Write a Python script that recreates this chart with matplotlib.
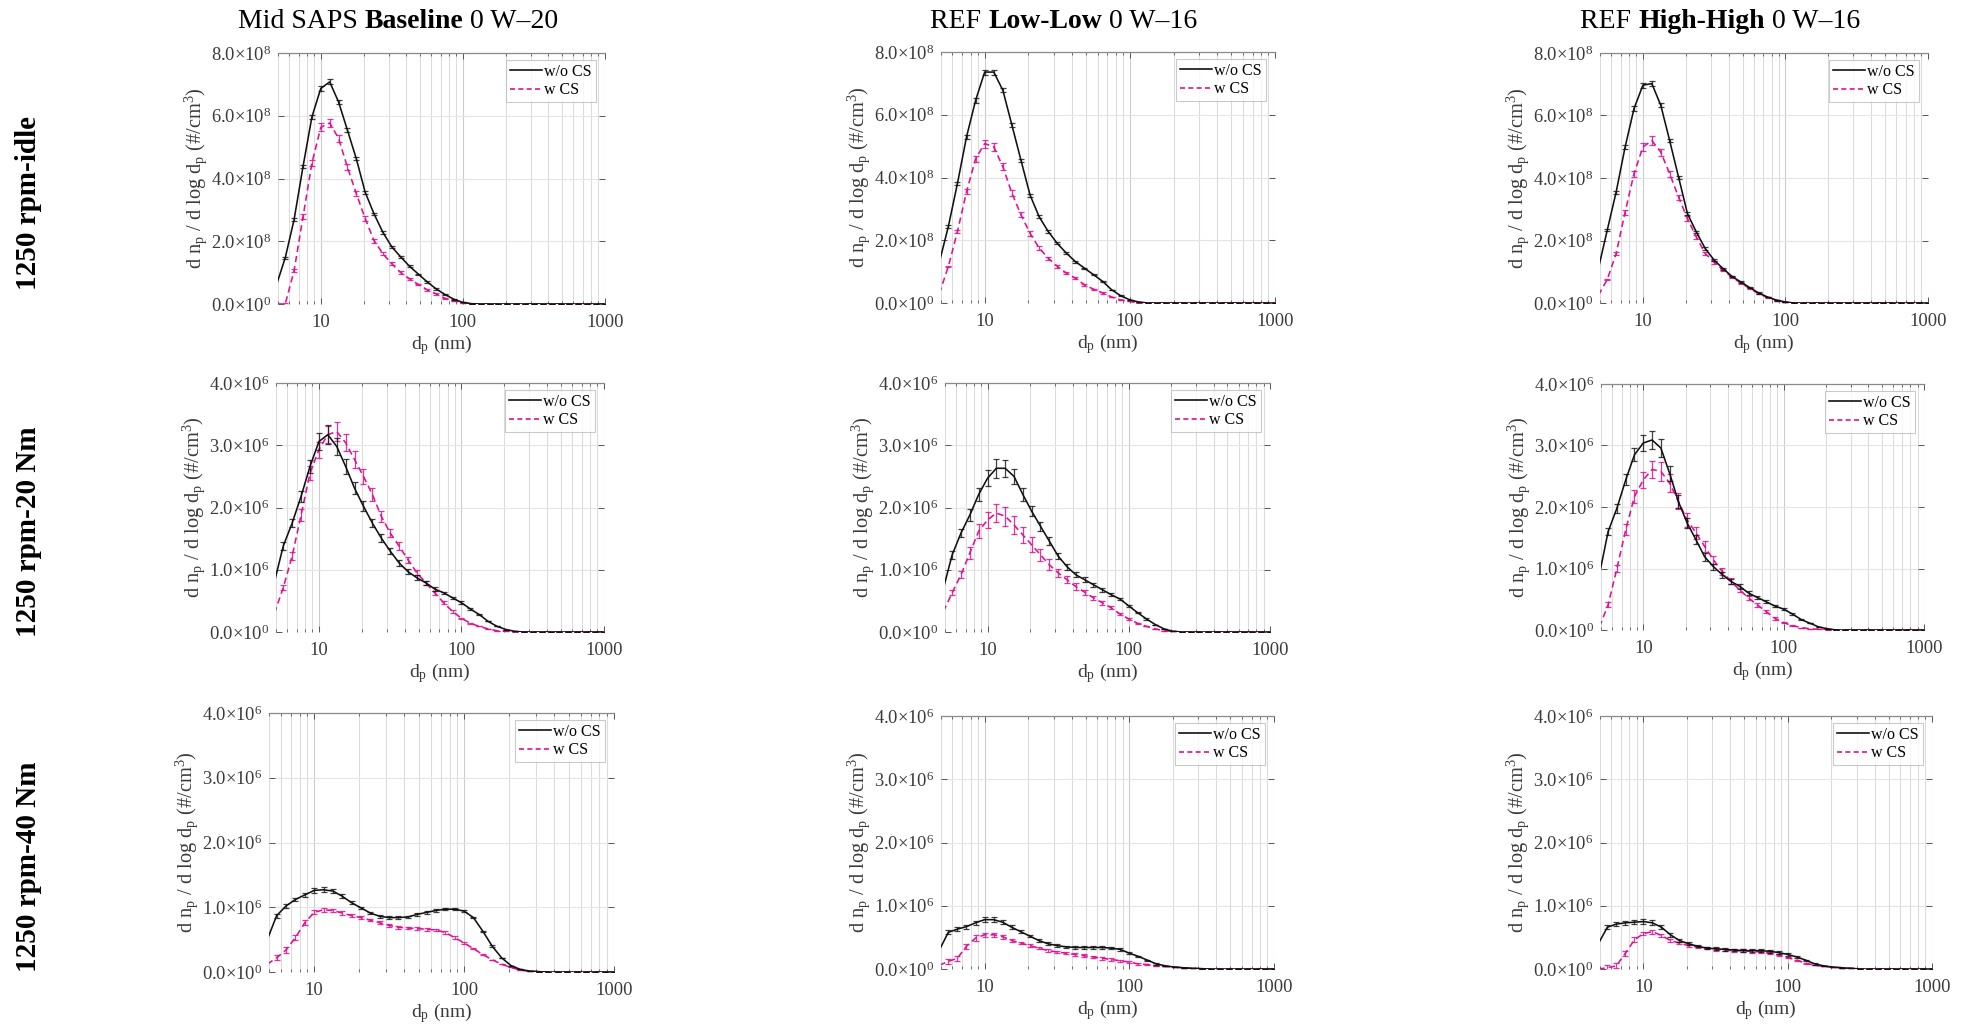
import matplotlib
matplotlib.use("Agg")
import matplotlib.pyplot as plt
from matplotlib.lines import Line2D
from matplotlib.ticker import FixedLocator, FuncFormatter, NullFormatter

plt.rcParams['font.family'] = ['Liberation Serif', 'DejaVu Serif']
plt.rcParams['mathtext.fontset'] = 'custom'
plt.rcParams['mathtext.rm'] = 'Liberation Serif'
plt.rcParams['mathtext.it'] = 'Liberation Serif:italic'
plt.rcParams['mathtext.bf'] = 'Liberation Serif:bold'

# ---------------- data ----------------
dp = [4.87, 5.62, 6.49, 7.50, 8.66, 10.0, 11.55, 13.34, 15.40, 17.78, 20.54, 23.71,
      27.38, 31.62, 36.52, 42.17, 48.70, 56.23, 64.94, 74.99, 86.60, 100.0, 115.5,
      133.4, 154.0, 177.8, 205.4, 237.1, 273.8, 316.2, 365.2, 421.7, 487.0, 562.3,
      649.4, 749.9, 866.0, 1000.0]

col_titles = [("Mid SAPS ", "Baseline", " 0 W\u201320"),
              ("REF ", "Low-Low", " 0 W\u201316"),
              ("REF ", "High-High", " 0 W\u201316")]
row_titles = ["1250 rpm-idle", "1250 rpm-20 Nm", "1250 rpm-40 Nm"]
row_exp = [8, 6, 6]
row_ticks = [[0, 2, 4, 6, 8], [0, 1, 2, 3, 4], [0, 1, 2, 3, 4]]
legend_labels = ["w/o CS", "w CS"]

# row 1 (x 1e8)
idle_base_wo = [0.6, 1.47, 2.69, 4.38, 5.96, 6.87, 7.08, 6.44, 5.54, 4.63, 3.56, 2.87,
                2.28, 1.82, 1.5, 1.2, 0.95, 0.7, 0.48, 0.3, 0.15, 0.05, 0.01]
idle_base_w = [0.0, 0.0, 1.06, 2.78, 4.49, 5.63, 5.77, 5.28, 4.36, 3.52, 2.72, 2.02,
               1.6, 1.28, 1.0, 0.8, 0.62, 0.45, 0.32, 0.18, 0.1, 0.04, 0.0]
idle_ll_wo = [1.3, 2.44, 3.81, 5.3, 6.46, 7.36, 7.36, 6.78, 5.67, 4.55, 3.44, 2.75,
              2.28, 1.9, 1.59, 1.32, 1.11, 0.9, 0.69, 0.42, 0.23, 0.1, 0.03]
idle_ll_w = [0.3, 1.17, 2.28, 3.55, 4.6, 5.08, 4.98, 4.34, 3.5, 2.81, 2.22, 1.75,
             1.43, 1.17, 0.95, 0.79, 0.58, 0.44, 0.32, 0.19, 0.1, 0.05, 0.01]
idle_hh_wo = [1.1, 2.33, 3.55, 4.99, 6.22, 6.97, 7.02, 6.33, 5.2, 4.03, 2.86, 2.27,
              1.74, 1.37, 1.1, 0.85, 0.67, 0.49, 0.32, 0.19, 0.09, 0.03]
idle_hh_w = [0.25, 0.75, 1.58, 2.91, 4.14, 4.99, 5.2, 4.83, 4.14, 3.39, 2.7, 2.11,
             1.58, 1.31, 1.05, 0.83, 0.64, 0.46, 0.3, 0.17, 0.09, 0.03]
# row 2 (x 1e6)
n20_base_wo = [0.8, 1.38, 1.75, 2.18, 2.66, 3.06, 3.17, 2.98, 2.66, 2.31, 2.02, 1.75,
               1.51, 1.3, 1.11, 0.97, 0.87, 0.79, 0.69, 0.63, 0.55, 0.47, 0.37, 0.28,
               0.17, 0.09, 0.04, 0.01]
n20_base_w = [0.3, 0.71, 1.22, 1.88, 2.55, 2.93, 3.17, 3.22, 3.04, 2.77, 2.5, 2.21,
              1.86, 1.59, 1.38, 1.16, 0.95, 0.79, 0.63, 0.47, 0.33, 0.22, 0.14, 0.09,
              0.05, 0.02, 0.01]
n20_ll_wo = [0.7, 1.24, 1.59, 1.88, 2.21, 2.47, 2.63, 2.63, 2.5, 2.21, 1.94, 1.7,
             1.46, 1.22, 1.05, 0.92, 0.84, 0.76, 0.68, 0.6, 0.53, 0.42, 0.31, 0.21,
             0.12, 0.05, 0.01]
n20_ll_w = [0.33, 0.63, 0.92, 1.27, 1.62, 1.8, 1.91, 1.86, 1.72, 1.56, 1.4, 1.24,
            1.08, 0.95, 0.84, 0.73, 0.64, 0.55, 0.47, 0.39, 0.29, 0.21, 0.14, 0.09,
            0.05, 0.02, 0.01]
n20_hh_wo = [0.9, 1.6, 1.98, 2.44, 2.85, 3.04, 3.09, 2.96, 2.55, 2.09, 1.74, 1.47,
             1.19, 1.03, 0.9, 0.79, 0.71, 0.6, 0.53, 0.46, 0.39, 0.34, 0.26, 0.17,
             0.11, 0.05, 0.02]
n20_hh_w = [0.05, 0.41, 1.0, 1.63, 2.17, 2.44, 2.61, 2.58, 2.39, 2.09, 1.79, 1.58,
            1.36, 1.14, 0.95, 0.79, 0.65, 0.52, 0.41, 0.3, 0.19, 0.12, 0.07, 0.04,
            0.02, 0.01]
# row 3 (x 1e6)
n40_base_wo = [0.5, 0.87, 1.02, 1.12, 1.19, 1.26, 1.27, 1.25, 1.17, 1.07, 0.99, 0.91,
               0.86, 0.84, 0.84, 0.85, 0.89, 0.92, 0.95, 0.97, 0.97, 0.94, 0.84, 0.63,
               0.4, 0.22, 0.1, 0.04, 0.015, 0.005]
n40_base_w = [0.12, 0.22, 0.34, 0.53, 0.76, 0.92, 0.96, 0.95, 0.91, 0.87, 0.84, 0.8,
              0.76, 0.72, 0.69, 0.68, 0.67, 0.66, 0.65, 0.61, 0.53, 0.45, 0.36, 0.27,
              0.19, 0.12, 0.07, 0.03, 0.01, 0.005]
n40_ll_wo = [0.3, 0.58, 0.63, 0.67, 0.73, 0.78, 0.78, 0.74, 0.66, 0.59, 0.52, 0.45,
             0.4, 0.37, 0.35, 0.34, 0.34, 0.34, 0.34, 0.33, 0.31, 0.25, 0.2, 0.14,
             0.08, 0.05, 0.03, 0.02, 0.01, 0.005]
n40_ll_w = [0.06, 0.12, 0.17, 0.36, 0.49, 0.54, 0.54, 0.51, 0.45, 0.41, 0.37, 0.33,
            0.29, 0.27, 0.25, 0.23, 0.21, 0.19, 0.17, 0.15, 0.13, 0.11, 0.08, 0.07,
            0.05, 0.04, 0.03, 0.02, 0.01, 0.005]
n40_hh_wo = [0.4, 0.66, 0.71, 0.73, 0.74, 0.75, 0.73, 0.66, 0.54, 0.45, 0.4, 0.36,
             0.33, 0.32, 0.31, 0.3, 0.29, 0.29, 0.29, 0.28, 0.26, 0.23, 0.19, 0.14,
             0.08, 0.05, 0.03, 0.02, 0.01]
n40_hh_w = [0.0, 0.02, 0.05, 0.25, 0.46, 0.56, 0.59, 0.53, 0.45, 0.41, 0.37, 0.35,
            0.33, 0.31, 0.3, 0.29, 0.29, 0.28, 0.27, 0.25, 0.22, 0.18, 0.14, 0.09,
            0.06, 0.04, 0.03, 0.02, 0.01]

# error bar half-widths (same units as values)
err_idle_wo = [0, 0.04, 0.05, 0.06, 0.07, 0.08, 0.08, 0.07, 0.06, 0.05, 0.05, 0.04,
               0.04, 0.03, 0.03, 0.03, 0.02, 0.02, 0.02, 0.01, 0.01]
err_idle_w = [0, 0.02, 0.05, 0.08, 0.1, 0.13, 0.13, 0.11, 0.1, 0.08, 0.07, 0.06, 0.05,
              0.05, 0.04, 0.03, 0.03, 0.02, 0.02, 0.01, 0.01]
err_n20_wo = [0, 0.06, 0.07, 0.09, 0.11, 0.13, 0.15, 0.14, 0.12, 0.1, 0.08, 0.07, 0.06,
              0.05, 0.05, 0.04, 0.04, 0.03, 0.03, 0.02, 0.02, 0.02, 0.01, 0.01]
err_n20_w = [0, 0.04, 0.06, 0.09, 0.11, 0.13, 0.14, 0.15, 0.14, 0.13, 0.12, 0.1, 0.09,
             0.07, 0.06, 0.05, 0.04, 0.03, 0.03, 0.02, 0.02, 0.01, 0.01]
err_n40_wo = [0, 0.03, 0.03, 0.03, 0.03, 0.04, 0.04, 0.03, 0.03, 0.02, 0.02, 0.02, 0.02,
              0.02, 0.02, 0.02, 0.02, 0.02, 0.02, 0.02, 0.02, 0.02, 0.01, 0.01, 0.01]
err_n40_w = [0, 0.04, 0.04, 0.04, 0.04, 0.03, 0.03, 0.03, 0.03, 0.02, 0.02, 0.02, 0.02,
             0.02, 0.02, 0.02, 0.02, 0.02, 0.02, 0.02, 0.02, 0.01, 0.01, 0.01]

series = [
    [(idle_base_wo, idle_base_w), (idle_ll_wo, idle_ll_w), (idle_hh_wo, idle_hh_w)],
    [(n20_base_wo, n20_base_w), (n20_ll_wo, n20_ll_w), (n20_hh_wo, n20_hh_w)],
    [(n40_base_wo, n40_base_w), (n40_ll_wo, n40_ll_w), (n40_hh_wo, n40_hh_w)],
]
errors = [(err_idle_wo, err_idle_w), (err_n20_wo, err_n20_w), (err_n40_wo, err_n40_w)]


def pad(v, n=len(dp)):
    return list(v) + [0.0] * (n - len(v))


# ---------------- layout ----------------
W, H = 1966, 1035
fig = plt.figure(figsize=(W / 100, H / 100), dpi=100)

# (left, right, top, bottom) in pixels
boxes = [
    [(278, 605, 53, 304), (941, 1275, 52, 303), (1600, 1928, 53, 303)],
    [(276, 604, 383, 632), (945, 1270, 383, 632), (1601, 1924, 384, 630)],
    [(269, 614, 713, 972), (941, 1274, 716, 969), (1600, 1932, 716, 969)],
]

BLACK = '#111111'
MAGENTA = '#e0108f'
TXT = '#3a3a3a'


def make_fmt(e):
    def f(v, pos):
        m = v / 10 ** e
        ex = 0 if abs(m) < 1e-12 else e
        return '%.1f\u00d710$^{\\mathregular{%d}}$' % (m, ex)
    return f


for r in range(3):
    scale = 10 ** row_exp[r]
    for c in range(3):
        l, rr, t, b = boxes[r][c]
        ax = fig.add_axes([l / W, 1 - b / H, (rr - l) / W, (b - t) / H])
        ax.set_xscale('log')
        wo, w = series[r][c]
        e_wo, e_w = errors[r]
        y_wo = [v * scale for v in pad(wo)]
        y_w = [v * scale for v in pad(w)]
        er_wo = [v * scale for v in pad(e_wo)]
        er_w = [v * scale for v in pad(e_w)]
        ax.plot(dp, y_w, color=MAGENTA, lw=1.15, ls=(0, (4, 2.5)), zorder=3)
        ax.errorbar(dp[1:], y_w[1:], yerr=er_w[1:], fmt='none', ecolor=MAGENTA,
                    elinewidth=0.9, capsize=2.5, capthick=0.9, alpha=0.85, zorder=3)
        ax.plot(dp, y_wo, color=BLACK, lw=1.15, zorder=4)
        ax.errorbar(dp[1:], y_wo[1:], yerr=er_wo[1:], fmt='none', ecolor=BLACK,
                    elinewidth=0.9, capsize=2.5, capthick=0.9, alpha=0.8, zorder=4)

        ax.set_xlim(5, 1000)
        ax.set_ylim(0, row_ticks[r][-1] * scale)
        ax.xaxis.set_major_locator(FixedLocator([10, 100, 1000]))
        minors = [5, 6, 7, 8, 9, 20, 30, 40, 50, 60, 70, 80, 90,
                  200, 300, 400, 500, 600, 700, 800, 900]
        ax.xaxis.set_minor_locator(FixedLocator(minors))
        ax.xaxis.set_minor_formatter(NullFormatter())
        ax.xaxis.set_major_formatter(FuncFormatter(lambda v, p: '%d' % v))
        ax.yaxis.set_major_locator(FixedLocator([v * scale for v in row_ticks[r]]))
        ax.yaxis.set_major_formatter(FuncFormatter(make_fmt(row_exp[r])))

        ax.grid(True, which='major', axis='x', color='#cccccc', lw=0.8)
        ax.grid(True, which='minor', axis='x', color='#dcdcdc', lw=0.8)
        ax.grid(True, which='major', axis='y', color='#e4e4e4', lw=0.8)
        ax.set_axisbelow(True)

        for s in ['left', 'right', 'bottom']:
            ax.spines[s].set_visible(False)
        ax.spines['top'].set_color('#8a8a8a')
        ax.spines['top'].set_linewidth(0.9)

        ax.tick_params(which='both', direction='in', top=True, right=True,
                       color='#555555', labelcolor=TXT, labelsize=13.3)
        ax.tick_params(which='major', length=4, width=0.7)
        ax.tick_params(which='minor', length=2.5, width=0.6)
        ax.tick_params(axis='y', pad=5)
        ax.tick_params(axis='x', pad=7)

        ax.set_xlabel('d$_\\mathregular{p}$ (nm)', fontsize=14, color=TXT, labelpad=2)
        ax.set_ylabel('d n$_\\mathregular{p}$ / d log d$_\\mathregular{p}$ (#/cm$^\\mathregular{3}$)',
                      fontsize=14.7, color=TXT, labelpad=1)

        handles = [Line2D([], [], color=BLACK, lw=1.2),
                   Line2D([], [], color=MAGENTA, lw=1.2, ls=(0, (3, 2)))]
        wpx, hpx = rr - l, b - t
        leg = ax.legend(handles, legend_labels, loc='upper right',
                        bbox_to_anchor=(1 - 9 / wpx, 1 - 7 / hpx), borderaxespad=0,
                        fontsize=11.5, frameon=True, fancybox=False, handlelength=2.0,
                        handletextpad=0.15, borderpad=0.25, labelspacing=0.15)
        leg.get_frame().set_edgecolor('#bdbdbd')
        leg.get_frame().set_linewidth(0.8)

# row labels
row_y = [203, 532, 867]
for r in range(3):
    fig.text(29 / W, 1 - row_y[r] / H, row_titles[r], rotation=90, ha='center',
             va='center', fontsize=21, fontweight='bold', color='black')

# column titles with mixed weights
col_x = [398, 1064, 1720]
renderer = fig.canvas.get_renderer()
for c in range(3):
    parts = col_titles[c]
    texts = []
    for i, s in enumerate(parts):
        tt = fig.text(0, 1 - 22 / H, s, fontsize=20, ha='left', va='center',
                      fontweight='bold' if i == 1 else 'normal', color='black')
        texts.append(tt)
    widths = [tt.get_window_extent(renderer).width for tt in texts]
    x0 = col_x[c] - sum(widths) / 2
    for tt, wdt in zip(texts, widths):
        tt.set_x(x0 / W)
        x0 += wdt

fig.savefig('out.png', dpi=100)
